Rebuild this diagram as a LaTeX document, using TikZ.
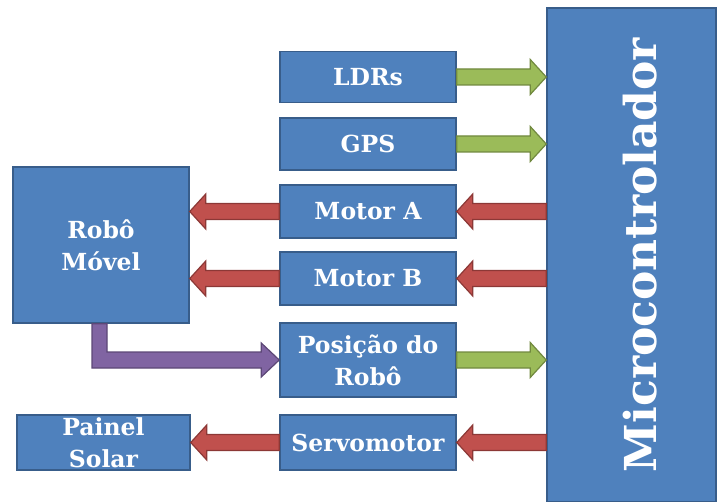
\documentclass[tikz,border=0pt]{standalone}
\usepackage{fontspec}
\setmainfont{DejaVu Serif}
\usetikzlibrary{calc}
\definecolor{boxblue}{HTML}{4F81BD}
\definecolor{boxedge}{HTML}{385D8A}
\definecolor{agreen}{HTML}{9BBB59}
\definecolor{agreenedge}{HTML}{71893F}
\definecolor{ared}{HTML}{C0504D}
\definecolor{arededge}{HTML}{8C3836}
\definecolor{apurple}{HTML}{8064A2}
\definecolor{apurpleedge}{HTML}{5C4776}
% block arrow pointing right: style, from, to
\newcommand{\rblock}[3]{%
\path[#1] let \p1=(#2), \p2=(#3) in
 (\x1,\y1+8pt) -- (\x2-16pt,\y1+8pt) -- (\x2-16pt,\y1+17.5pt) -- (\x2,\y1)
 -- (\x2-16pt,\y1-17.5pt) -- (\x2-16pt,\y1-8pt) -- (\x1,\y1-8pt) -- cycle;}
% block arrow pointing left: style, from, to
\newcommand{\lblock}[3]{%
\path[#1] let \p1=(#2), \p2=(#3) in
 (\x1,\y1+8pt) -- (\x2+16pt,\y1+8pt) -- (\x2+16pt,\y1+17.5pt) -- (\x2,\y1)
 -- (\x2+16pt,\y1-17.5pt) -- (\x2+16pt,\y1-8pt) -- (\x1,\y1-8pt) -- cycle;}
\begin{document}
\begin{tikzpicture}[x=1pt,y=-1pt,
  box/.style={draw=boxedge, line width=1.5pt, fill=boxblue, text=white,
    font=\bfseries\fontsize{23.5}{32}\selectfont, align=center, inner sep=0pt},
  greenarr/.style={fill=agreen, draw=agreenedge, line width=1.2pt, line join=miter},
  redarr/.style={fill=ared, draw=arededge, line width=1.2pt, line join=miter},
  purplearr/.style={fill=apurple, draw=apurpleedge, line width=1.2pt, line join=miter}]
\useasboundingbox (0,0) rectangle (717,502);
\node[box, minimum width=176, minimum height=51] (ldr) at (368,77) {LDRs};
\node[box, minimum width=176, minimum height=52] (gps) at (368,144) {GPS};
\node[box, minimum width=176, minimum height=53] (ma) at (368,211.5) {Motor A};
\node[box, minimum width=176, minimum height=53] (mb) at (368,278.5) {Motor B};
\node[box, minimum width=176, minimum height=74] (pos) at (368,360) {Posição do\\Robô};
\node[box, minimum width=176, minimum height=55] (servo) at (368,442.5) {Servomotor};
\node[box, minimum width=176, minimum height=156] (robo) at (101,245) {Robô\\Móvel};
\node[box, minimum width=173, minimum height=55] (painel) at (103.5,442.5) {Painel\\Solar};
\node[box, minimum width=169, minimum height=494] (micro) at (631.5,255) {};
\node[text=white, font=\bfseries\fontsize{44}{50}\selectfont, rotate=90, inner sep=0pt] (microtext) at (640,255) {Microcontrolador};
% arrows into the microcontroller
\rblock{greenarr}{ldr.east}{micro.west |- ldr.east}
\rblock{greenarr}{gps.east}{micro.west |- gps.east}
\rblock{greenarr}{pos.east}{micro.west |- pos.east}
% arrows out of the microcontroller
\lblock{redarr}{micro.west |- ma.east}{ma.east}
\lblock{redarr}{micro.west |- mb.east}{mb.east}
\lblock{redarr}{micro.west |- servo.east}{servo.east}
% arrows to the robot and panel
\lblock{redarr}{ma.west}{robo.east |- ma.west}
\lblock{redarr}{mb.west}{robo.east |- mb.west}
\lblock{redarr}{servo.west}{painel.east |- servo.west}
% bent arrow from robot to position
\path[purplearr] let \p1=($(robo.south)+(-1.5,0)$), \p2=(pos.west) in
 (\x1-7.5pt,\y1) -- (\x1-7.5pt,\y2-8pt) -- (\x2-18pt,\y2-8pt) -- (\x2-18pt,\y2-17pt)
 -- (\x2,\y2) -- (\x2-18pt,\y2+17pt) -- (\x2-18pt,\y2+8pt) -- (\x1+7.5pt,\y2+8pt)
 -- (\x1+7.5pt,\y1) -- cycle;
\end{tikzpicture}
\end{document}
